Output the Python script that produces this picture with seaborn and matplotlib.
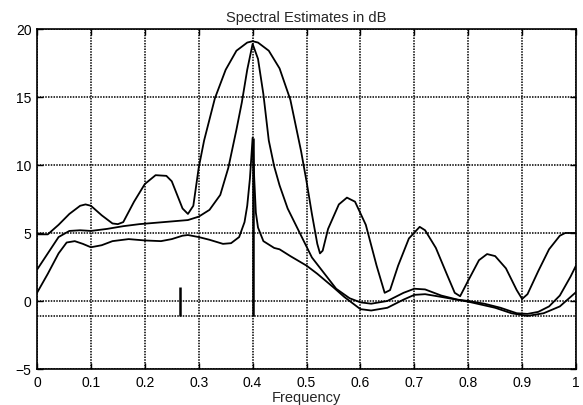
import matplotlib
matplotlib.use("Agg")
import matplotlib.pyplot as plt
import seaborn as sns
import pandas as pd

# --- data ---
freq_a = [0.00, 0.02, 0.04, 0.06, 0.08, 0.09, 0.10, 0.12, 0.14, 0.15, 0.16, 0.18,
          0.20, 0.22, 0.24, 0.25, 0.26, 0.27, 0.28, 0.29, 0.30, 0.31, 0.33, 0.35,
          0.37, 0.39, 0.40, 0.41, 0.43, 0.45, 0.47, 0.49, 0.50, 0.51, 0.52, 0.525,
          0.53, 0.54, 0.56, 0.575, 0.59, 0.61, 0.63, 0.645, 0.655, 0.67, 0.69, 0.71,
          0.72, 0.74, 0.76, 0.775, 0.785, 0.80, 0.82, 0.835, 0.85, 0.87, 0.89, 0.90,
          0.91, 0.93, 0.95, 0.97, 0.98, 1.00]
db_a = [4.9, 4.9, 5.6, 6.4, 7.0, 7.1, 7.0, 6.3, 5.7, 5.65, 5.8, 7.3,
        8.6, 9.25, 9.2, 8.8, 7.8, 6.8, 6.4, 7.0, 9.8, 11.8, 14.9, 17.0,
        18.4, 19.0, 19.1, 19.0, 18.4, 17.1, 14.8, 11.0, 8.8, 6.4, 4.2, 3.5,
        3.7, 5.3, 7.1, 7.6, 7.3, 5.6, 2.6, 0.6, 0.8, 2.6, 4.6, 5.45,
        5.2, 3.9, 2.0, 0.6, 0.35, 1.5, 3.0, 3.45, 3.3, 2.4, 0.8, 0.15,
        0.5, 2.2, 3.8, 4.8, 5.0, 5.0]

freq_b = [0.00, 0.02, 0.04, 0.06, 0.08, 0.10, 0.13, 0.16, 0.19, 0.22, 0.25, 0.28,
          0.30, 0.32, 0.34, 0.355, 0.37, 0.38, 0.39, 0.40, 0.41, 0.42, 0.43, 0.44,
          0.45, 0.465, 0.48, 0.51, 0.555, 0.58, 0.60, 0.62, 0.65, 0.68, 0.70, 0.72,
          0.75, 0.78, 0.80, 0.83, 0.86, 0.89, 0.91, 0.93, 0.95, 0.97, 0.99, 1.00]
db_b = [2.3, 3.5, 4.7, 5.15, 5.2, 5.15, 5.3, 5.5, 5.65, 5.75, 5.85, 5.95,
        6.2, 6.7, 7.8, 9.8, 12.6, 14.6, 17.0, 18.9, 17.8, 15.2, 11.8, 9.9,
        8.5, 6.8, 5.6, 3.2, 0.9, 0.2, -0.1, -0.2, 0.0, 0.6, 0.9, 0.85,
        0.4, 0.1, 0.0, -0.2, -0.5, -0.9, -0.95, -0.8, -0.4, 0.4, 1.8, 2.6]

freq_c = [0.00, 0.02, 0.04, 0.055, 0.07, 0.085, 0.10, 0.12, 0.14, 0.17, 0.20, 0.23,
          0.25, 0.27, 0.28, 0.30, 0.32, 0.345, 0.36, 0.375, 0.385, 0.39, 0.395, 0.40,
          0.403, 0.406, 0.41, 0.42, 0.44, 0.45, 0.47, 0.50, 0.52, 0.55, 0.57, 0.60,
          0.62, 0.65, 0.68, 0.70, 0.72, 0.75, 0.80, 0.85, 0.88, 0.91, 0.94, 0.97, 1.00]
db_c = [0.6, 2.0, 3.5, 4.3, 4.4, 4.2, 3.95, 4.1, 4.4, 4.55, 4.45, 4.4,
        4.55, 4.8, 4.85, 4.7, 4.5, 4.2, 4.25, 4.7, 5.8, 7.0, 9.0, 12.0,
        9.0, 6.5, 5.4, 4.4, 3.9, 3.8, 3.3, 2.6, 2.0, 1.0, 0.3, -0.6,
        -0.7, -0.5, 0.1, 0.45, 0.5, 0.3, -0.05, -0.5, -0.9, -1.1, -0.9, -0.4, 0.65]

# true sinusoid lines and noise floor
stem_freq = [0.265, 0.40]
stem_db = [1.0, 12.0]
noise_floor = -1.13

x_ticks = [0, 0.1, 0.2, 0.3, 0.4, 0.5, 0.6, 0.7, 0.8, 0.9, 1]
x_labels = ["0", "0.1", "0.2", "0.3", "0.4", "0.5", "0.6", "0.7", "0.8", "0.9", "1"]
y_ticks = [-5, 0, 5, 10, 15, 20]

sns.set_style("white")
plt.rcParams["font.family"] = ["Liberation Sans", "DejaVu Sans"]

fig = plt.figure(figsize=(5.83, 4.06), dpi=100)
ax = fig.add_axes([0.0635, 0.0887, 0.9245, 0.8375])

for fr, db in [(freq_a, db_a), (freq_b, db_b), (freq_c, db_c)]:
    df = pd.DataFrame({"Frequency": fr, "dB": db})
    sns.lineplot(data=df, x="Frequency", y="dB", ax=ax, color="black",
                 linewidth=1.3, estimator=None, sort=False)

ax.axhline(noise_floor, color="black", linewidth=1.1, linestyle=(0, (1, 0.8)))
ax.vlines(stem_freq, noise_floor, stem_db, color="black", linewidth=1.8)

ax.set_xlim(0, 1)
ax.set_ylim(-5, 20)
ax.set_xticks(x_ticks)
ax.set_xticklabels(x_labels)
ax.set_yticks(y_ticks)
ax.grid(True, color="black", linestyle=(0, (1, 0.8)), linewidth=1.1)
ax.tick_params(direction="in", length=4, width=1, colors="black",
               labelsize=10, pad=4, top=True, right=True, bottom=True, left=True)
for s in ax.spines.values():
    s.set_color("black")
    s.set_linewidth(1.2)

ax.set_title("Spectral Estimates in dB", fontsize=10.5, pad=6)
ax.set_xlabel("Frequency", fontsize=10.5, labelpad=1)
ax.set_ylabel("")

fig.savefig("out.png", dpi=100)
